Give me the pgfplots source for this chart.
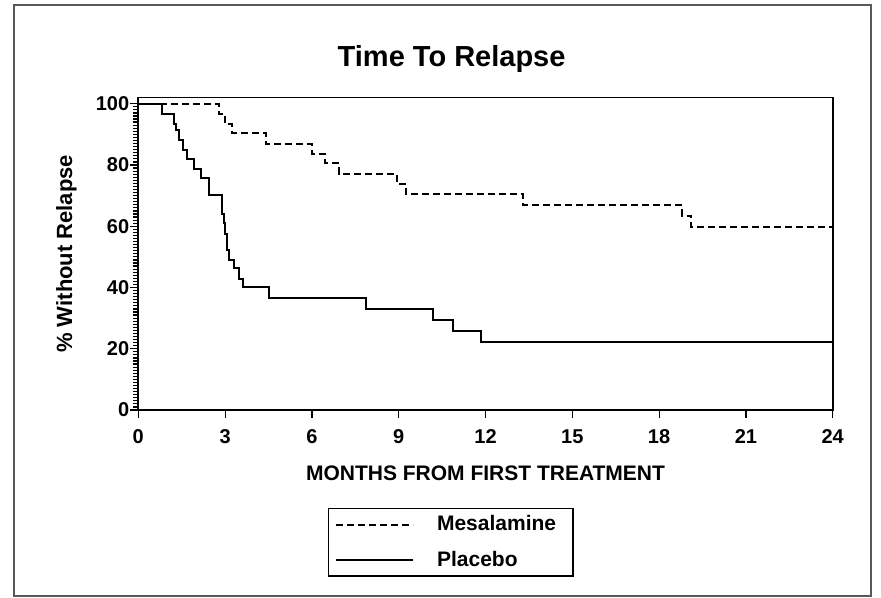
\documentclass[border=0pt]{standalone}
\usepackage{fontspec}
\setmainfont{Liberation Sans}
\usepackage{pgfplots}
\pgfplotsset{compat=1.18}

% Kaplan-Meier curves (months, % without relapse)
\pgfplotstableread{
t     s
0     100
2.78  96.7
3.00  93.3
3.25  90.4
4.43  87.0
6.00  83.7
6.45  80.5
6.95  77.2
8.95  73.7
9.25  70.5
13.30 67.0
18.80 63.5
19.10 59.8
24.00 59.8
}\mesalamine

\pgfplotstableread{
t     s
0     100
0.82  96.7
1.22  93.5
1.32  91.3
1.42  88.0
1.55  84.8
1.68  81.8
1.91  78.8
2.17  75.9
2.45  70.1
2.88  64.1
2.95  60.9
3.00  57.6
3.06  52.2
3.15  48.9
3.30  46.2
3.47  42.9
3.62  40.0
4.50  36.6
7.88  32.9
10.18 29.3
10.87 25.8
11.85 22.3
24.00 22.3
}\placebo

\begin{document}
\begin{tikzpicture}
\useasboundingbox (0,0) rectangle (440.5pt,299pt);
\draw[black!65, line width=1.3pt] (7pt,1pt) rectangle (435.5pt,296.5pt);
\node[font=\bfseries\fontsize{14.5}{17}\selectfont] at (225.8pt,269.7pt) {Time To Relapse};

\begin{axis}[
    at={(69.15pt,94pt)}, anchor=south west,
    scale only axis,
    width=347.2pt, height=156.2pt,
    xmin=0, xmax=24,
    ymin=0, ymax=102,
    xtick={0,3,...,24},
    ytick={0,20,...,100},
    minor y tick num=19,
    xtick pos=bottom, ytick pos=left,
    tick align=outside,
    major tick length=4pt,
    minor tick length=2.5pt,
    tick style={black, line width=0.6pt},
    axis line style={line width=0.9pt},
    /pgf/number format/assume math mode=true,
    tick label style={font=\bfseries\fontsize{10}{12}\selectfont},
    xticklabel style={text height=7.2pt, text depth=0pt, yshift=-2pt},
    yticklabel style={xshift=3pt},
    xlabel={MONTHS FROM FIRST TREATMENT},
    xlabel style={font=\bfseries\fontsize{10.5}{12}\selectfont,
        at={(axis description cs:0.5,-0.2016)}, anchor=center},
    ylabel={\% Without Relapse},
    ylabel style={font=\bfseries\fontsize{11}{13}\selectfont,
        at={(axis description cs:-0.1035,0.5)}, anchor=center},
    legend style={at={(0.450,-0.424)}, anchor=center,
        draw=black, line width=0.7pt,
        font=\bfseries\fontsize{10.5}{12}\selectfont,
        inner xsep=3.5pt, inner ysep=1.5pt, row sep=4.5pt,
        /tikz/every odd column/.append style={column sep=9.5pt}},
    legend cell align=left,
    legend image code/.code={\draw[#1, line width=0.8pt] (0pt,0pt) -- (38.5pt,0pt);},
]

\addplot[const plot, black, line width=1pt, dash pattern=on 3.5pt off 2pt] table[x=t, y=s] {\mesalamine};
\addlegendentry{Mesalamine\hspace*{3pt}}

\addplot[const plot, black, line width=1pt] table[x=t, y=s] {\placebo};
\addlegendentry{Placebo}

\end{axis}
\end{tikzpicture}
\end{document}
